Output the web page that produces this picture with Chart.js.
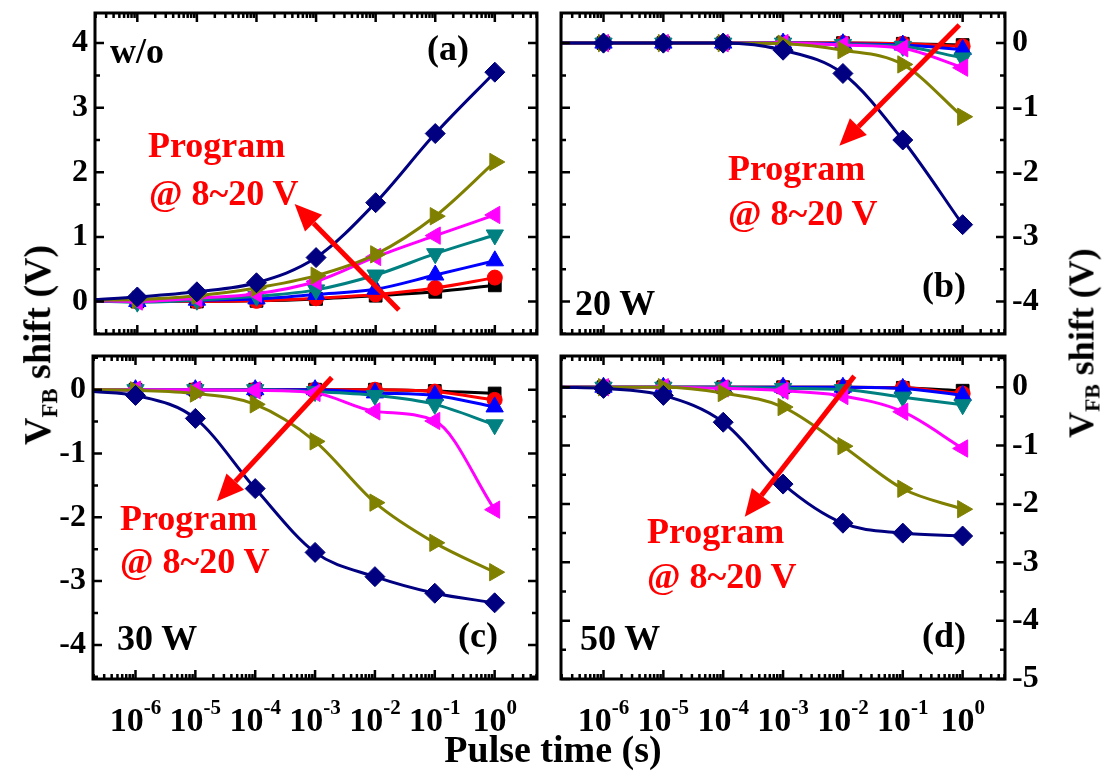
<!DOCTYPE html>
<html>
<head>
<meta charset="utf-8">
<script src="https://cdn.jsdelivr.net/npm/chart.js@4.4.0/dist/chart.umd.min.js"></script>
<style>
body { margin: 0; background: #fff; }
#wrap { position: relative; width: 1107px; height: 776px; overflow: hidden;
        font-family: "Liberation Serif", "Times New Roman", serif; font-weight: bold; }
canvas { position: absolute; }
.t { position: absolute; white-space: nowrap; line-height: 1; font-size: 36px; color: #000; }
.red { color: #ff0000; }
.rot { transform: translate(-50%, -50%) rotate(-90deg); }
.sub { font-size: 0.6em; vertical-align: -0.3em; }
</style>
</head>
<body>
<div id="wrap">
  <canvas id="pa" width="548" height="345" style="left:0;top:0"></canvas>
  <canvas id="pb" width="559" height="345" style="left:548px;top:0"></canvas>
  <canvas id="pc" width="548" height="431" style="left:0;top:345px"></canvas>
  <canvas id="pd" width="559" height="431" style="left:548px;top:345px"></canvas>

  <div class="t" style="left:110px;top:33px">w/o</div>
  <div class="t" style="left:427px;top:30px">(a)</div>
  <div class="t red" style="left:148px;top:127px">Program</div>
  <div class="t red" style="left:149px;top:175px">@ 8~20 V</div>

  <div class="t" style="left:575px;top:285px">20 W</div>
  <div class="t" style="left:922px;top:267px">(b)</div>
  <div class="t red" style="left:728px;top:150px">Program</div>
  <div class="t red" style="left:728px;top:195px">@ 8~20 V</div>

  <div class="t" style="left:117px;top:620px">30 W</div>
  <div class="t" style="left:458px;top:617px">(c)</div>
  <div class="t red" style="left:120px;top:500px">Program</div>
  <div class="t red" style="left:120px;top:543px">@ 8~20 V</div>

  <div class="t" style="left:580px;top:620px">50 W</div>
  <div class="t" style="left:922px;top:617px">(d)</div>
  <div class="t red" style="left:647px;top:513px">Program</div>
  <div class="t red" style="left:647px;top:558px">@ 8~20 V</div>

  <div class="t" style="left:553px;top:730px;font-size:38px;transform:translateX(-50%)">Pulse time (s)</div>
  <div class="t rot" style="left:40px;top:345px;font-size:38px">V<span class="sub">FB</span> shift (V)</div>
  <div class="t rot" style="left:1084px;top:343px;font-size:36px">V<span class="sub">FB</span> shift (V)</div>
</div>

<script>
// pulse time (s); the first entry is where the fitted curves start at the left edge
var pulseTime = [2e-7, 1e-6, 1e-5, 1e-4, 1e-3, 1e-2, 1e-1, 1];
var decades = [1e-6, 1e-5, 1e-4, 1e-3, 1e-2, 1e-1, 1];
var decadeExp = ['-6', '-5', '-4', '-3', '-2', '-1', '0'];
var programV = ['8 V', '10 V', '12 V', '14 V', '16 V', '18 V', '20 V'];

// (a) w/o
var woV8  = [0.01, 0.00, 0.00, 0.01, 0.04, 0.09, 0.15, 0.25];
var woV10 = [0.01, 0.00, 0.00, 0.01, 0.05, 0.11, 0.21, 0.37];
var woV12 = [0.01, 0.00, 0.02, 0.04, 0.11, 0.19, 0.41, 0.63];
var woV14 = [0.01, -0.01, 0.02, 0.08, 0.18, 0.41, 0.74, 1.03];
var woV16 = [0.01, 0.00, 0.05, 0.12, 0.31, 0.69, 1.02, 1.34];
var woV18 = [0.02, 0.03, 0.09, 0.21, 0.40, 0.73, 1.32, 2.16];
var woV20 = [0.03, 0.07, 0.15, 0.29, 0.68, 1.53, 2.60, 3.55];

// (b) 20 W
var w20V8  = [0, 0, 0, 0, 0, 0, -0.01, -0.03];
var w20V10 = [0, 0, 0, 0, 0, 0, -0.01, -0.05];
var w20V12 = [0, 0, 0, 0, 0, -0.01, -0.03, -0.10];
var w20V14 = [0, 0, 0, 0, 0, -0.02, -0.05, -0.23];
var w20V16 = [0, 0, 0, 0, 0, -0.03, -0.08, -0.38];
var w20V18 = [0, 0, 0, 0, -0.01, -0.11, -0.33, -1.14];
var w20V20 = [0, 0, 0, 0, -0.11, -0.47, -1.50, -2.81];

// (c) 30 W
var w30V8  = [0, 0, 0, 0, 0, 0, -0.02, -0.06];
var w30V10 = [0, 0, 0, 0, 0, 0, -0.03, -0.16];
var w30V12 = [0, 0, 0, 0, 0, -0.05, -0.09, -0.27];
var w30V14 = [0, 0, 0, 0, -0.03, -0.09, -0.23, -0.55];
var w30V16 = [0, 0, 0, -0.01, -0.05, -0.34, -0.49, -1.88];
var w30V18 = [0, -0.01, -0.06, -0.23, -0.81, -1.77, -2.40, -2.86];
var w30V20 = [-0.03, -0.09, -0.45, -1.55, -2.55, -2.93, -3.19, -3.34];

// (d) 50 W
var w50V8  = [0, 0, 0, 0, 0, 0, -0.01, -0.06];
var w50V10 = [0, 0, 0, 0, 0, 0, -0.01, -0.11];
var w50V12 = [0, 0, 0, 0, 0, 0, -0.02, -0.14];
var w50V14 = [0, 0, 0, 0, -0.02, -0.04, -0.17, -0.30];
var w50V16 = [0, 0, 0, -0.02, -0.06, -0.15, -0.42, -1.05];
var w50V18 = [0, 0, 0, -0.10, -0.34, -1.01, -1.74, -2.09];
var w50V20 = [0, -0.02, -0.14, -0.60, -1.66, -2.33, -2.50, -2.55];

var colors = ['#000000', '#ff0000', '#0000ff', '#008080', '#ff00ff', '#808000', '#000080'];
var shapes = ['rect', 'circle', 'triangle', 'triangle', 'triangle', 'triangle', 'rectRot'];
var rotations = [0, 0, 0, 180, 270, 90, 0];
var sizes = [9, 7.5, 10, 10, 10, 10, 10];

var font = "'Liberation Serif', 'Times New Roman', serif";
Chart.defaults.font.family = font;

var framePlugin = {
  id: 'frame',
  afterDatasetsDraw: function(chart, args, opts) {
    var ctx = chart.ctx, a = chart.chartArea, x = chart.scales.x, y = chart.scales.y;
    ctx.save();
    // arrow
    if (opts.arrow) {
      var x1 = x.getPixelForValue(opts.arrow[0][0]), y1 = y.getPixelForValue(opts.arrow[0][1]);
      var x2 = x.getPixelForValue(opts.arrow[1][0]), y2 = y.getPixelForValue(opts.arrow[1][1]);
      var ang = Math.atan2(y2 - y1, x2 - x1), hl = 27, hw = 12;
      var bx = x2 - Math.cos(ang) * hl, by = y2 - Math.sin(ang) * hl;
      ctx.strokeStyle = '#ff0000'; ctx.fillStyle = '#ff0000'; ctx.lineWidth = 5;
      ctx.beginPath(); ctx.moveTo(x1, y1); ctx.lineTo(bx, by); ctx.stroke();
      ctx.beginPath();
      ctx.moveTo(x2, y2);
      ctx.lineTo(bx + Math.sin(ang) * hw, by - Math.cos(ang) * hw);
      ctx.lineTo(bx - Math.sin(ang) * hw, by + Math.cos(ang) * hw);
      ctx.closePath(); ctx.fill();
    }
    // inward ticks on all four sides
    ctx.strokeStyle = '#000'; ctx.lineWidth = 2.5;
    ctx.beginPath();
    for (var e = -7; e <= 0; e++) {
      for (var m = 1; m <= 9; m++) {
        var v = m * Math.pow(10, e);
        if (v < x.min || v > x.max) continue;
        var px = x.getPixelForValue(v), len = m === 1 ? 9 : 5;
        ctx.moveTo(px, a.bottom); ctx.lineTo(px, a.bottom - len);
        ctx.moveTo(px, a.top); ctx.lineTo(px, a.top + len);
      }
    }
    for (var k = Math.ceil(y.min * 2); k <= Math.floor(y.max * 2); k++) {
      var py = y.getPixelForValue(k / 2), l2 = k % 2 === 0 ? 9 : 5;
      ctx.moveTo(a.left, py); ctx.lineTo(a.left + l2, py);
      ctx.moveTo(a.right, py); ctx.lineTo(a.right - l2, py);
    }
    ctx.stroke();
    ctx.lineWidth = 3;
    ctx.strokeRect(a.left, a.top, a.right - a.left, a.bottom - a.top);
    // x tick labels 10^n
    if (opts.xLabels) {
      ctx.fillStyle = '#000'; ctx.textAlign = 'left'; ctx.textBaseline = 'alphabetic';
      decades.forEach(function(d, i) {
        var p = x.getPixelForValue(d);
        ctx.font = 'bold 34px ' + font;
        var w1 = ctx.measureText('10').width;
        ctx.font = 'bold 21px ' + font;
        var w2 = ctx.measureText(decadeExp[i]).width;
        var x0 = p - (w1 + w2) / 2, base = a.bottom + 52;
        ctx.font = 'bold 34px ' + font;
        ctx.fillText('10', x0, base);
        ctx.font = 'bold 21px ' + font;
        ctx.fillText(decadeExp[i], x0 + w1, base - 17);
      });
    }
    ctx.restore();
  }
};

function makePanel(id, series, ymin, ymax, side, yWidth, pad, xLabels, arrow) {
  var datasets = series.map(function(vals, i) {
    var r = sizes[i];
    return {
      label: programV[i],
      data: pulseTime.map(function(t, j) { return { x: t, y: vals[j] }; }),
      borderColor: colors[i],
      backgroundColor: colors[i],
      borderWidth: 3,
      pointStyle: shapes[i],
      rotation: rotations[i],
      pointRadius: pulseTime.map(function(t, j) { return j === 0 ? 0 : r; }),
      pointBorderWidth: 1,
      cubicInterpolationMode: 'monotone',
      order: 6 - i
    };
  });
  return new Chart(document.getElementById(id), {
    type: 'line',
    data: { datasets: datasets },
    options: {
      responsive: false,
      animation: false,
      events: [],
      layout: { padding: pad },
      scales: {
        x: { type: 'logarithmic', min: 1.95e-7, max: 5.1, display: false },
        y: {
          type: 'linear', position: side, min: ymin, max: ymax,
          grid: { display: false, drawTicks: false },
          border: { display: false },
          ticks: { color: '#000', font: { size: 32, weight: 'bold' }, padding: 7 },
          afterBuildTicks: function(s) {
            var t = [];
            for (var v = Math.ceil(s.min); v <= Math.floor(s.max); v++) t.push({ value: v });
            s.ticks = t;
          },
          afterFit: function(s) { s.width = yWidth; s.paddingTop = 0; s.paddingBottom = 0; }
        }
      },
      plugins: {
        legend: { display: false },
        tooltip: { enabled: false },
        frame: { arrow: arrow, xLabels: xLabels }
      }
    },
    plugins: [framePlugin]
  });
}

makePanel('pa', [woV8, woV10, woV12, woV14, woV16, woV18, woV20], -0.503, 4.466, 'left', 95,
  { left: 0, top: 13, right: 7, bottom: 9 }, false,
  [[Math.pow(10, -1.61), -0.13], [Math.pow(10, -3.36), 1.51]]);
makePanel('pb', [w20V8, w20V10, w20V12, w20V14, w20V16, w20V18, w20V20], -4.503, 0.466, 'right', 60,
  { left: 13, top: 13, right: 42, bottom: 9 }, false,
  [[Math.pow(10, -0.055), 0.28], [Math.pow(10, -2.06), -1.59]]);
makePanel('pc', [w30V8, w30V10, w30V12, w30V14, w30V16, w30V18, w30V20], -4.534, 0.528, 'left', 93,
  { left: 0, top: 5, right: 7, bottom: 97 }, true,
  [[Math.pow(10, -2.72), 0.19], [Math.pow(10, -4.64), -1.75]]);
makePanel('pd', [w50V8, w50V10, w50V12, w50V14, w50V16, w50V18, w50V20], -5.0, 0.535, 'right', 60,
  { left: 13, top: 5, right: 42, bottom: 97 }, true,
  [[Math.pow(10, -1.81), 0.19], [Math.pow(10, -3.64), -2.22]]);
</script>
</body>
</html>
